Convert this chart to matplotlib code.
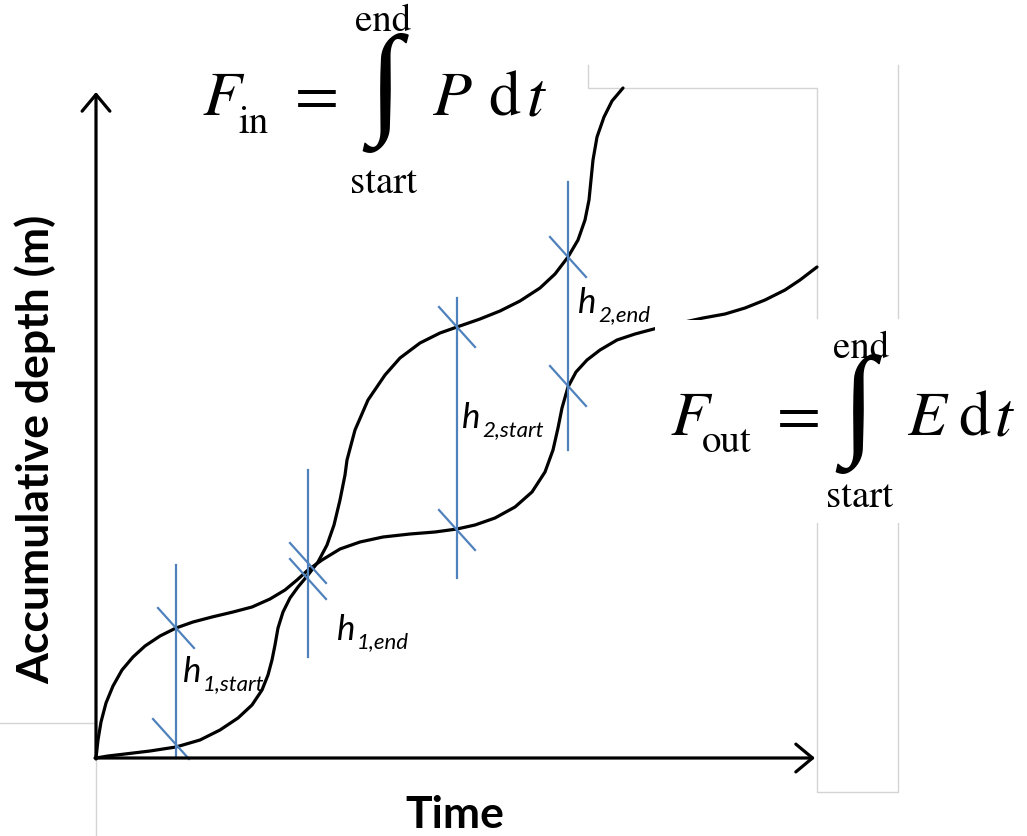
import matplotlib.pyplot as plt
from matplotlib.patches import Rectangle

# cumulative depth curves, (time, depth) with origin at the axes corner
f_in_t = [0, 12, 29, 54, 80, 104, 124, 142, 156, 166, 172, 176, 179, 182, 187, 194, 202,
          212, 222, 231, 238, 244, 249, 251, 259, 272, 289, 304, 324, 344, 361, 384, 404,
          424, 444, 459, 472, 482, 489, 493, 495, 497, 501, 508, 516, 527]
f_in_d = [0, 2, 4, 7, 11, 18, 28, 40, 53, 68, 83, 98, 113, 130, 146, 160, 171,
          183, 196, 213, 233, 258, 283, 298, 328, 358, 383, 400, 415, 425, 431, 439, 447,
          457, 470, 484, 501, 518, 538, 558, 578, 598, 621, 641, 657, 670]

f_out_t = [0, 2, 5, 10, 17, 26, 37, 49, 64, 80, 97, 116, 137, 156, 174, 189, 201,
           212, 226, 244, 264, 287, 314, 339, 361, 379, 399, 419, 436, 449, 457, 462,
           466, 472, 480, 491, 504, 521, 539, 554, 569, 584, 607, 629, 649, 669, 689,
           704, 721]
f_out_d = [0, 18, 36, 55, 72, 88, 101, 112, 122, 130, 136, 141, 146, 151, 159, 168, 178,
           188, 198, 209, 216, 221, 224, 226, 229, 233, 240, 251, 266, 286, 308, 330,
           350, 371, 386, 398, 408, 418, 424, 428, 432, 435, 440, 444, 450, 458, 468,
           478, 491]

# measurement lines and the points where they meet the curves
v_t = [80, 212, 361, 472]
v_lo = [0, 101, 180, 308]
v_hi = [193, 288, 460, 576]
tick_t = [80, 75, 212, 212, 361, 361, 472, 472]
tick_d = [130, 19, 195, 179, 431, 228, 501, 372]

h_subs = ['1,start', '1,end', '2,start', '2,end']
h_t = [87, 241, 366, 482]
h_d = [76, 118, 330, 445]

blue = '#4f81bd'
grey = '#d4d4d4'

fig = plt.figure(figsize=(10.27, 8.36), dpi=100)
ax = fig.add_axes([0, 0, 1, 1])
ax.set_xlim(-96, 931)
ax.set_ylim(-78, 758)
ax.axis('off')

ax.plot(f_in_t, f_in_d, color='black', lw=2.3, solid_capstyle='round', solid_joinstyle='round', zorder=3)
ax.plot(f_out_t, f_out_d, color='black', lw=2.3, solid_capstyle='round', solid_joinstyle='round', zorder=3)

for t, lo, hi in zip(v_t, v_lo, v_hi):
    ax.plot([t, t], [lo, hi], color=blue, lw=1.6, zorder=4)
for t, d in zip(tick_t, tick_d):
    ax.plot([t - 18, t + 18], [d + 20, d - 20], color=blue, lw=1.6, zorder=4)

for s, t, d in zip(h_subs, h_t, h_d):
    ax.text(t, d, 'h', fontsize=25, style='italic', family='Lato', ha='left', va='baseline', zorder=5)
    ax.text(t + 20, d - 8, s, fontsize=16, style='italic', family='Lato', ha='left', va='baseline', zorder=5)

# axes arrows
arrow = dict(arrowstyle='->,head_length=0.6,head_width=0.5', lw=2.3, color='black',
             shrinkA=0, shrinkB=0, mutation_scale=20)
ax.annotate('', xy=(719, 0), xytext=(-1, 0), arrowprops=arrow, zorder=6)
ax.annotate('', xy=(0, 666), xytext=(0, -1), arrowprops=arrow, zorder=6)

ax.text(-61, 309, 'Accumulative depth (m)', rotation=90, ha='center', va='center',
        fontsize=32, fontweight='bold', family='Lato')
ax.text(359, -57, 'Time', ha='center', va='center', fontsize=32, fontweight='bold', family='Lato')

# white panel holding the F_out equation
ax.add_patch(Rectangle((559, 235), 372, 203, facecolor='white', edgecolor='none', zorder=7))

for xs, ys in [([-96, -1], [35, 35]), ([0, 0], [-2, -78]),
               ([492, 492, 721, 721], [693, 670, 670, 440]), ([802, 802], [693, 440]),
               ([721, 721, 802, 802], [235, -34, -34, 235])]:
    ax.plot(xs, ys, color=grey, lw=1, zorder=2)

serif = 'STIXGeneral'
integ = 'Liberation Serif'
big, small = 46, 28
# F_in = int P dt
ax.text(106, 643, 'F', fontsize=big, style='italic', family=serif, va='baseline')
ax.text(142, 625, 'in', fontsize=small, family=serif, va='baseline')
ax.text(199, 643, '=', fontsize=big, family=serif, va='baseline')
ax.text(289, 665, '\u222b', fontsize=88, family=integ, va='center', ha='center')
ax.text(287, 727, 'end', fontsize=small, family=serif, va='baseline', ha='center')
ax.text(288, 565, 'start', fontsize=small, family=serif, va='baseline', ha='center')
ax.text(337, 643, 'P', fontsize=big, style='italic', family=serif, va='baseline')
ax.text(392, 643, 'd', fontsize=big, family=serif, va='baseline')
ax.text(431, 643, 't', fontsize=big, style='italic', family=serif, va='baseline')

# F_out = int E dt
ax.text(574, 323, 'F', fontsize=big, style='italic', family=serif, va='baseline', zorder=8)
ax.text(606, 306, 'out', fontsize=small, family=serif, va='baseline', zorder=8)
ax.text(681, 323, '=', fontsize=big, family=serif, va='baseline', zorder=8)
ax.text(762, 344, '\u222b', fontsize=88, family=integ, va='center', ha='center', zorder=8)
ax.text(765, 400, 'end', fontsize=small, family=serif, va='baseline', ha='center', zorder=8)
ax.text(764, 251, 'start', fontsize=small, family=serif, va='baseline', ha='center', zorder=8)
ax.text(811, 323, 'E', fontsize=big, style='italic', family=serif, va='baseline', zorder=8)
ax.text(862, 323, 'd', fontsize=big, family=serif, va='baseline', zorder=8)
ax.text(899, 323, 't', fontsize=big, style='italic', family=serif, va='baseline', zorder=8)

fig.savefig('out.png', dpi=100)
